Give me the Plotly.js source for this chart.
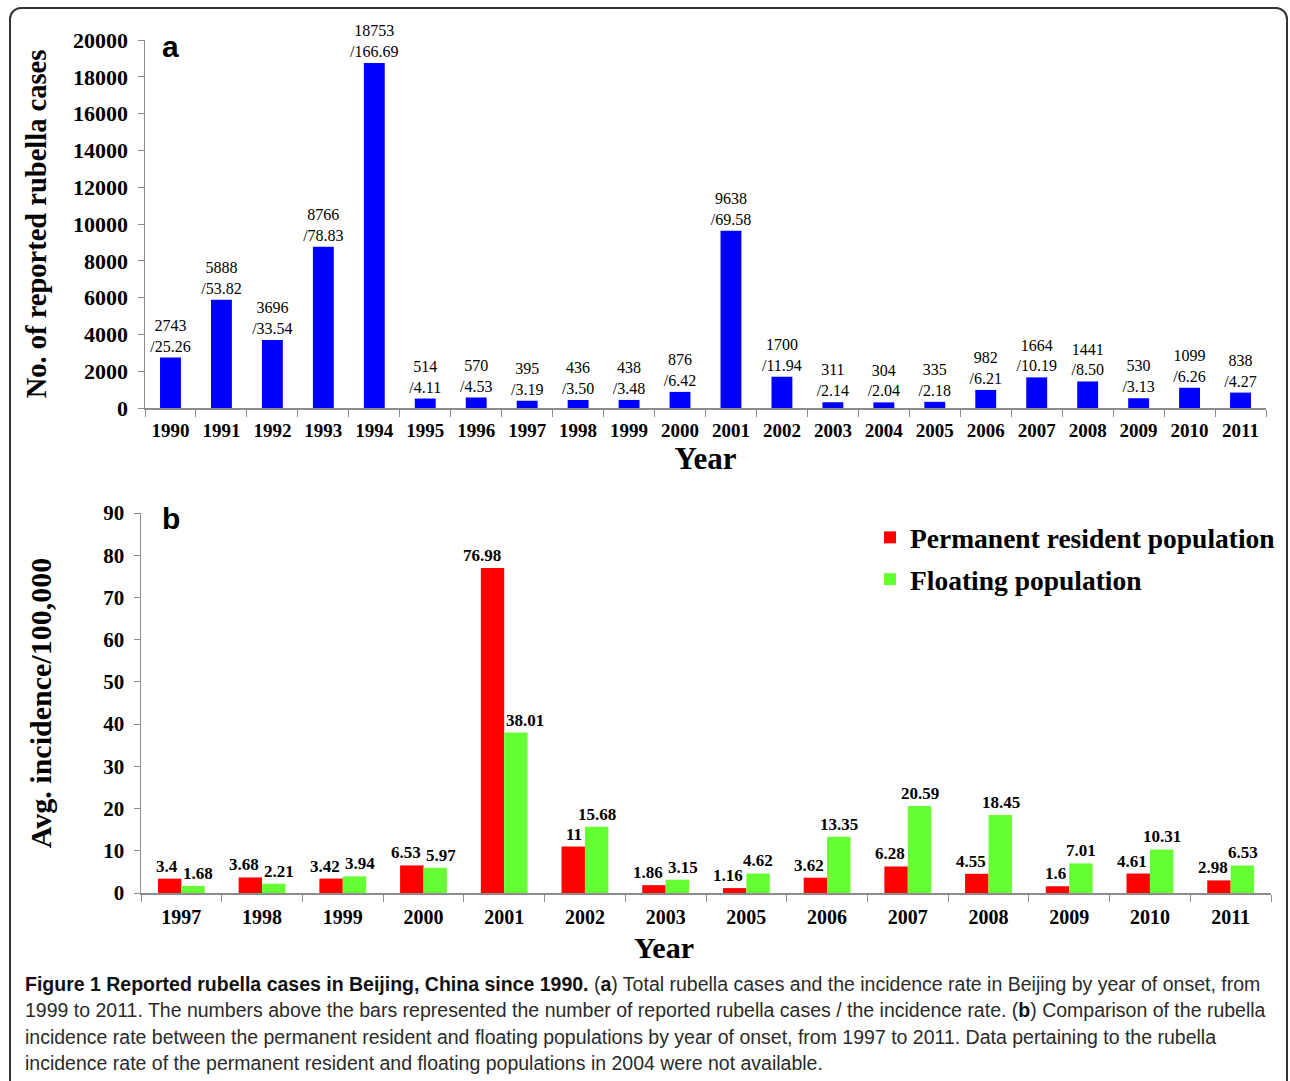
<!DOCTYPE html>
<html>
<head>
<meta charset="utf-8">
<script src="https://cdn.plot.ly/plotly-3.0.1.min.js"></script>
<style>
  html, body { margin: 0; padding: 0; width: 1290px; height: 1081px; overflow: hidden; background: #fff; }
  #chart { position: absolute; left: 0; top: 0; width: 1290px; height: 1081px; }
  #frame { position: absolute; left: 9px; top: 7px; width: 1279px; height: 1100px; box-sizing: border-box;
           border: 2px solid #333; border-radius: 12px; pointer-events: none; }
  #caption { position: absolute; left: 25px; top: 971px; font-family: "Liberation Sans Narrow", "Liberation Sans", sans-serif;
             font-size: 19.5px; line-height: 26.3px; color: #2a2a2a; white-space: nowrap; }
  #caption b { color: #111; }
</style>
</head>
<body>
<div id="chart"></div>
<div id="frame"></div>
<div id="caption">
<b>Figure 1 Reported rubella cases in Beijing, China since 1990.</b> (<b>a</b>) Total rubella cases and the incidence rate in Beijing by year of onset, from<br>
1999 to 2011. The numbers above the bars represented the number of reported rubella cases / the incidence rate. (<b>b</b>) Comparison of the rubella<br>
incidence rate between the permanent resident and floating populations by year of onset, from 1997 to 2011. Data pertaining to the rubella<br>
incidence rate of the permanent resident and floating populations in 2004 were not available.
</div>
<script>
// ---- Panel a data ----
const yearsA = ["1990","1991","1992","1993","1994","1995","1996","1997","1998","1999","2000",
                "2001","2002","2003","2004","2005","2006","2007","2008","2009","2010","2011"];
const cases = [2743,5888,3696,8766,18753,514,570,395,436,438,876,9638,1700,311,304,335,982,1664,1441,530,1099,838];
const rates = ["25.26","53.82","33.54","78.83","166.69","4.11","4.53","3.19","3.50","3.48","6.42",
               "69.58","11.94","2.14","2.04","2.18","6.21","10.19","8.50","3.13","6.26","4.27"];

// ---- Panel b data ----
const yearsB = ["1997","1998","1999","2000","2001","2002","2003","2005","2006","2007","2008","2009","2010","2011"];
const permanent = [3.4,3.68,3.42,6.53,76.98,11,1.86,1.16,3.62,6.28,4.55,1.6,4.61,2.98];
const floating  = [1.68,2.21,3.94,5.97,38.01,15.68,3.15,4.62,13.35,20.59,18.45,7.01,10.31,6.53];

const SERIF = "Liberation Serif, Times New Roman, serif";
const AX = "#8c8c8c";
const W = 1290, H = 1081;
const px = v => v / W;
const py = v => 1 - v / H;

const labelsA = cases.map((c, i) => c + "<br>/" + rates[i]);

const traces = [
  {
    type: "bar", x: yearsA, y: cases, xaxis: "x", yaxis: "y",
    marker: { color: "#0000ff" }, width: 0.41,
    text: labelsA, textposition: "outside", cliponaxis: false, constraintext: "none",
    textfont: { family: SERIF, size: 16, color: "#000" },
    showlegend: false, hoverinfo: "x+y"
  },
  {
    type: "bar", name: "Permanent resident population", x: yearsB, y: permanent, xaxis: "x2", yaxis: "y2",
    marker: { color: "#ff0000" }, legendgroup: "p"
  },
  {
    type: "bar", name: "Floating population", x: yearsB, y: floating, xaxis: "x2", yaxis: "y2",
    marker: { color: "#66ff33" }, legendgroup: "f"
  }
];

// value labels for panel b, anchored at each bar's category (serial index) and value on the library's axes.
// Permanent labels sit just left of the group centre; floating labels are centred over their bar
// unless that would collide with the permanent label / bar, in which case they start at the group centre.
const labelFont = { family: SERIF, size: 17, color: "#000", weight: "bold" };
const labelH = 3.4; // approx. label height in axis units
const labelsB = [];
yearsB.forEach((yr, i) => {
  labelsB.push({ xref: "x2", yref: "y2", x: i, y: permanent[i], text: String(permanent[i]),
    showarrow: false, xanchor: "right", yanchor: "bottom", xshift: -1, yshift: 1, font: labelFont });
  const clash = floating[i] < permanent[i] + labelH;
  labelsB.push({ xref: "x2", yref: "y2", x: i, y: floating[i], text: String(floating[i]),
    showarrow: false, xanchor: clash ? "left" : "center", yanchor: "bottom",
    xshift: clash ? 0 : 12, yshift: 1, font: labelFont });
});

const xCommon = {
  type: "category", showline: true, linecolor: AX, linewidth: 1.5,
  ticks: "outside", tickson: "boundaries", ticklen: 7, tickcolor: AX, tickwidth: 1,
  ticklabelstandoff: 5, showgrid: false, zeroline: false, fixedrange: true
};
const yCommon = {
  showline: true, linecolor: AX, linewidth: 1.5, ticks: "outside", ticklen: 6, tickcolor: AX,
  ticklabelstandoff: 5, tickformat: "d",
  showgrid: false, zeroline: false, fixedrange: true
};

const layout = {
  width: W, height: H,
  margin: { l: 0, r: 0, t: 0, b: 0 },
  paper_bgcolor: "#fff", plot_bgcolor: "rgba(0,0,0,0)",
  barmode: "group", bargap: 0.42, bargroupgap: 0,
  font: { family: SERIF, color: "#000" },
  xaxis: Object.assign({}, xCommon, {
    domain: [px(145), px(1266)], anchor: "y",
    tickfont: { family: SERIF, size: 19, weight: "bold" },
    title: { text: "Year", font: { family: SERIF, size: 31, weight: "bold" }, standoff: 5 }
  }),
  yaxis: Object.assign({}, yCommon, {
    domain: [py(408), py(40)], anchor: "x", range: [0, 20000], tick0: 0, dtick: 2000,
    tickfont: { family: SERIF, size: 22, weight: "bold" },
    title: { text: "No. of reported rubella cases", font: { family: SERIF, size: 28.5, weight: "bold" }, standoff: 18 }
  }),
  xaxis2: Object.assign({}, xCommon, {
    domain: [px(141), px(1271)], anchor: "y2", range: [-0.5, yearsB.length - 0.5],
    tickfont: { family: SERIF, size: 20, weight: "bold" }
  }),
  yaxis2: Object.assign({}, yCommon, {
    domain: [py(893), py(513)], anchor: "x2", range: [0, 90], tick0: 0, dtick: 10,
    tickfont: { family: SERIF, size: 21, weight: "bold" },
    title: { text: "Avg. incidence/100,000", font: { family: SERIF, size: 30, weight: "bold" }, standoff: 43 }
  }),
  legend: {
    x: px(870), y: py(513), xanchor: "left", yanchor: "top",
    bgcolor: "rgba(0,0,0,0)", borderwidth: 0, traceorder: "grouped", tracegroupgap: 3,
    font: { family: SERIF, size: 27.5, weight: "bold", color: "#000" }
  },
  annotations: [
    { xref: "paper", yref: "paper", x: px(160), y: py(28), xanchor: "left", yanchor: "top", showarrow: false,
      text: "<b>a</b>", font: { family: "Liberation Sans, Arial, sans-serif", size: 30, color: "#000" } },
    { xref: "paper", yref: "paper", x: px(160), y: py(500), xanchor: "left", yanchor: "top", showarrow: false,
      text: "<b>b</b>", font: { family: "Liberation Sans, Arial, sans-serif", size: 30, color: "#000" } },
    { xref: "paper", yref: "paper", x: px(664), y: py(929), xanchor: "center", yanchor: "top", showarrow: false,
      text: "<b>Year</b>", font: { family: SERIF, size: 30, color: "#000" } }
  ].concat(labelsB)
};

Plotly.newPlot("chart", traces, layout, { staticPlot: true, displayModeBar: false });
</script>
</body>
</html>
